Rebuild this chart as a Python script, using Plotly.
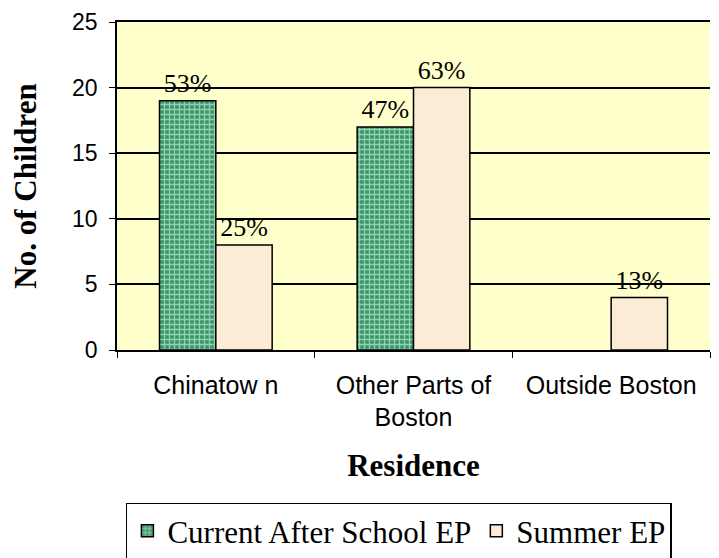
import plotly.graph_objects as go

categories = ["Chinatow n", "Other Parts of<br>Boston", "Outside Boston"]
after_school = [19, 17, None]
summer = [8, 20, 4]
after_labels = ["53%", "47%", ""]
summer_labels = ["25%", "63%", "13%"]

serif = "Liberation Serif, DejaVu Serif, serif"
sans = "Liberation Sans, Arial, sans-serif"

fig = go.Figure()
fig.add_trace(go.Bar(
    name="Current After School EP", x=categories, y=after_school,
    text=after_labels, textposition="outside", cliponaxis=False,
    textfont=dict(family=serif, size=26, color="black"),
    marker=dict(color="#339966", line=dict(color="black", width=1.5),
                pattern=dict(shape="+", fgcolor="white", bgcolor="#339966", size=5, solidity=0.45, fillmode="overlay")),
))
fig.add_trace(go.Bar(
    name="Summer EP", x=categories, y=summer,
    text=summer_labels, textposition="outside", cliponaxis=False,
    textfont=dict(family=serif, size=26, color="black"),
    marker=dict(color="#FCEBD5", line=dict(color="black", width=1.5)),
))

fig.update_layout(
    width=711, height=550,
    margin=dict(l=109, r=9, t=14, b=208, autoexpand=False),
    paper_bgcolor="white", plot_bgcolor="#FFFFCC",
    barmode="group", bargap=0.43, bargroupgap=0,
    showlegend=True,
    legend=dict(orientation="h", x=0.015, xanchor="left", y=-0.465, yanchor="top",
                font=dict(family=serif, size=31, color="black"),
                bordercolor="black", borderwidth=1.5, bgcolor="white",
                itemwidth=30, tracegroupgap=0),
    xaxis=dict(
        title=dict(text="<b>Residence</b>", font=dict(family=serif, size=31, color="black"), standoff=24),
        tickfont=dict(family=sans, size=25, color="black"),
        showline=True, linecolor="black", linewidth=1.5, mirror=True,
        ticks="outside", tickson="boundaries", ticklen=6, tickcolor="black",
        ticklabelstandoff=12,
        showgrid=False, automargin=False,
    ),
    yaxis=dict(
        title=dict(text="<b>No. of Children</b>", font=dict(family=serif, size=31, color="black"), standoff=30),
        tickfont=dict(family=sans, size=23, color="black"),
        range=[0, 25], dtick=5,
        showline=True, linecolor="black", linewidth=1.5,
        ticks="outside", ticklen=6, tickcolor="black",
        ticklabelstandoff=7, ticklabeloverflow="allow",
        showgrid=True, gridcolor="black", gridwidth=1.5,
        zeroline=False, automargin=False,
    ),
)

fig.write_html("out.html")
